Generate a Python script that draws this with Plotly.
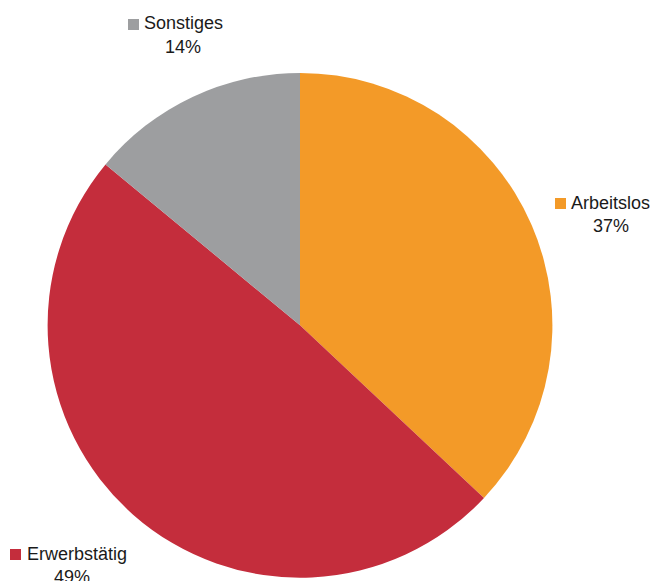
import plotly.graph_objects as go

# Share of each group
categories = ["Arbeitslos", "Erwerbstätig", "Sonstiges"]
shares = [37, 49, 14]
colors = ["#F39A28", "#C42D3C", "#9D9E A0".replace(" ", "")]

W, H = 653, 581
cx, cy, r = 300.0, 325.3, 252.4


def px(x):
    return x / W


def py(y):
    return 1 - y / H


fig = go.Figure(
    go.Pie(
        labels=categories,
        values=shares,
        sort=False,
        direction="clockwise",
        rotation=0,
        marker=dict(colors=colors, line=dict(width=0)),
        textinfo="none",
        hoverinfo="label+percent",
        domain=dict(x=[px(cx - r), px(cx + r)], y=[py(cy + r), py(cy - r)]),
        showlegend=False,
    )
)

# Label placement: colored square, name, then percentage below
label_pos = {
    "Sonstiges": dict(sq=(128, 19), name=(143, 23), pct=(183, 47)),
    "Arbeitslos": dict(sq=(555, 198), name=(570, 203), pct=(611, 226)),
    "Erwerbstätig": dict(sq=(10, 549), name=(26, 554), pct=(72, 577)),
}

font = dict(family="Liberation Sans, Arial, sans-serif", size=18, color="#1a1a1a")
shapes = []
annotations = []
for cat, val, col in zip(categories, shares, colors):
    p = label_pos[cat]
    sx, sy = p["sq"]
    shapes.append(
        dict(
            type="rect", xref="paper", yref="paper",
            x0=px(sx), x1=px(sx + 11), y0=py(sy + 11), y1=py(sy),
            fillcolor=col, line=dict(width=0),
        )
    )
    nx, ny = p["name"]
    annotations.append(
        dict(
            text=cat, x=px(nx), y=py(ny), xref="paper", yref="paper",
            xanchor="left", yanchor="middle", showarrow=False,
            font=font, borderpad=0,
        )
    )
    qx, qy = p["pct"]
    annotations.append(
        dict(
            text=f"{val}%", x=px(qx), y=py(qy), xref="paper", yref="paper",
            xanchor="center", yanchor="middle", showarrow=False,
            font=font, borderpad=0,
        )
    )

fig.update_layout(
    width=W,
    height=H,
    margin=dict(l=0, r=0, t=0, b=0),
    paper_bgcolor="white",
    plot_bgcolor="white",
    shapes=shapes,
    annotations=annotations,
)

fig.write_html("out.html")
